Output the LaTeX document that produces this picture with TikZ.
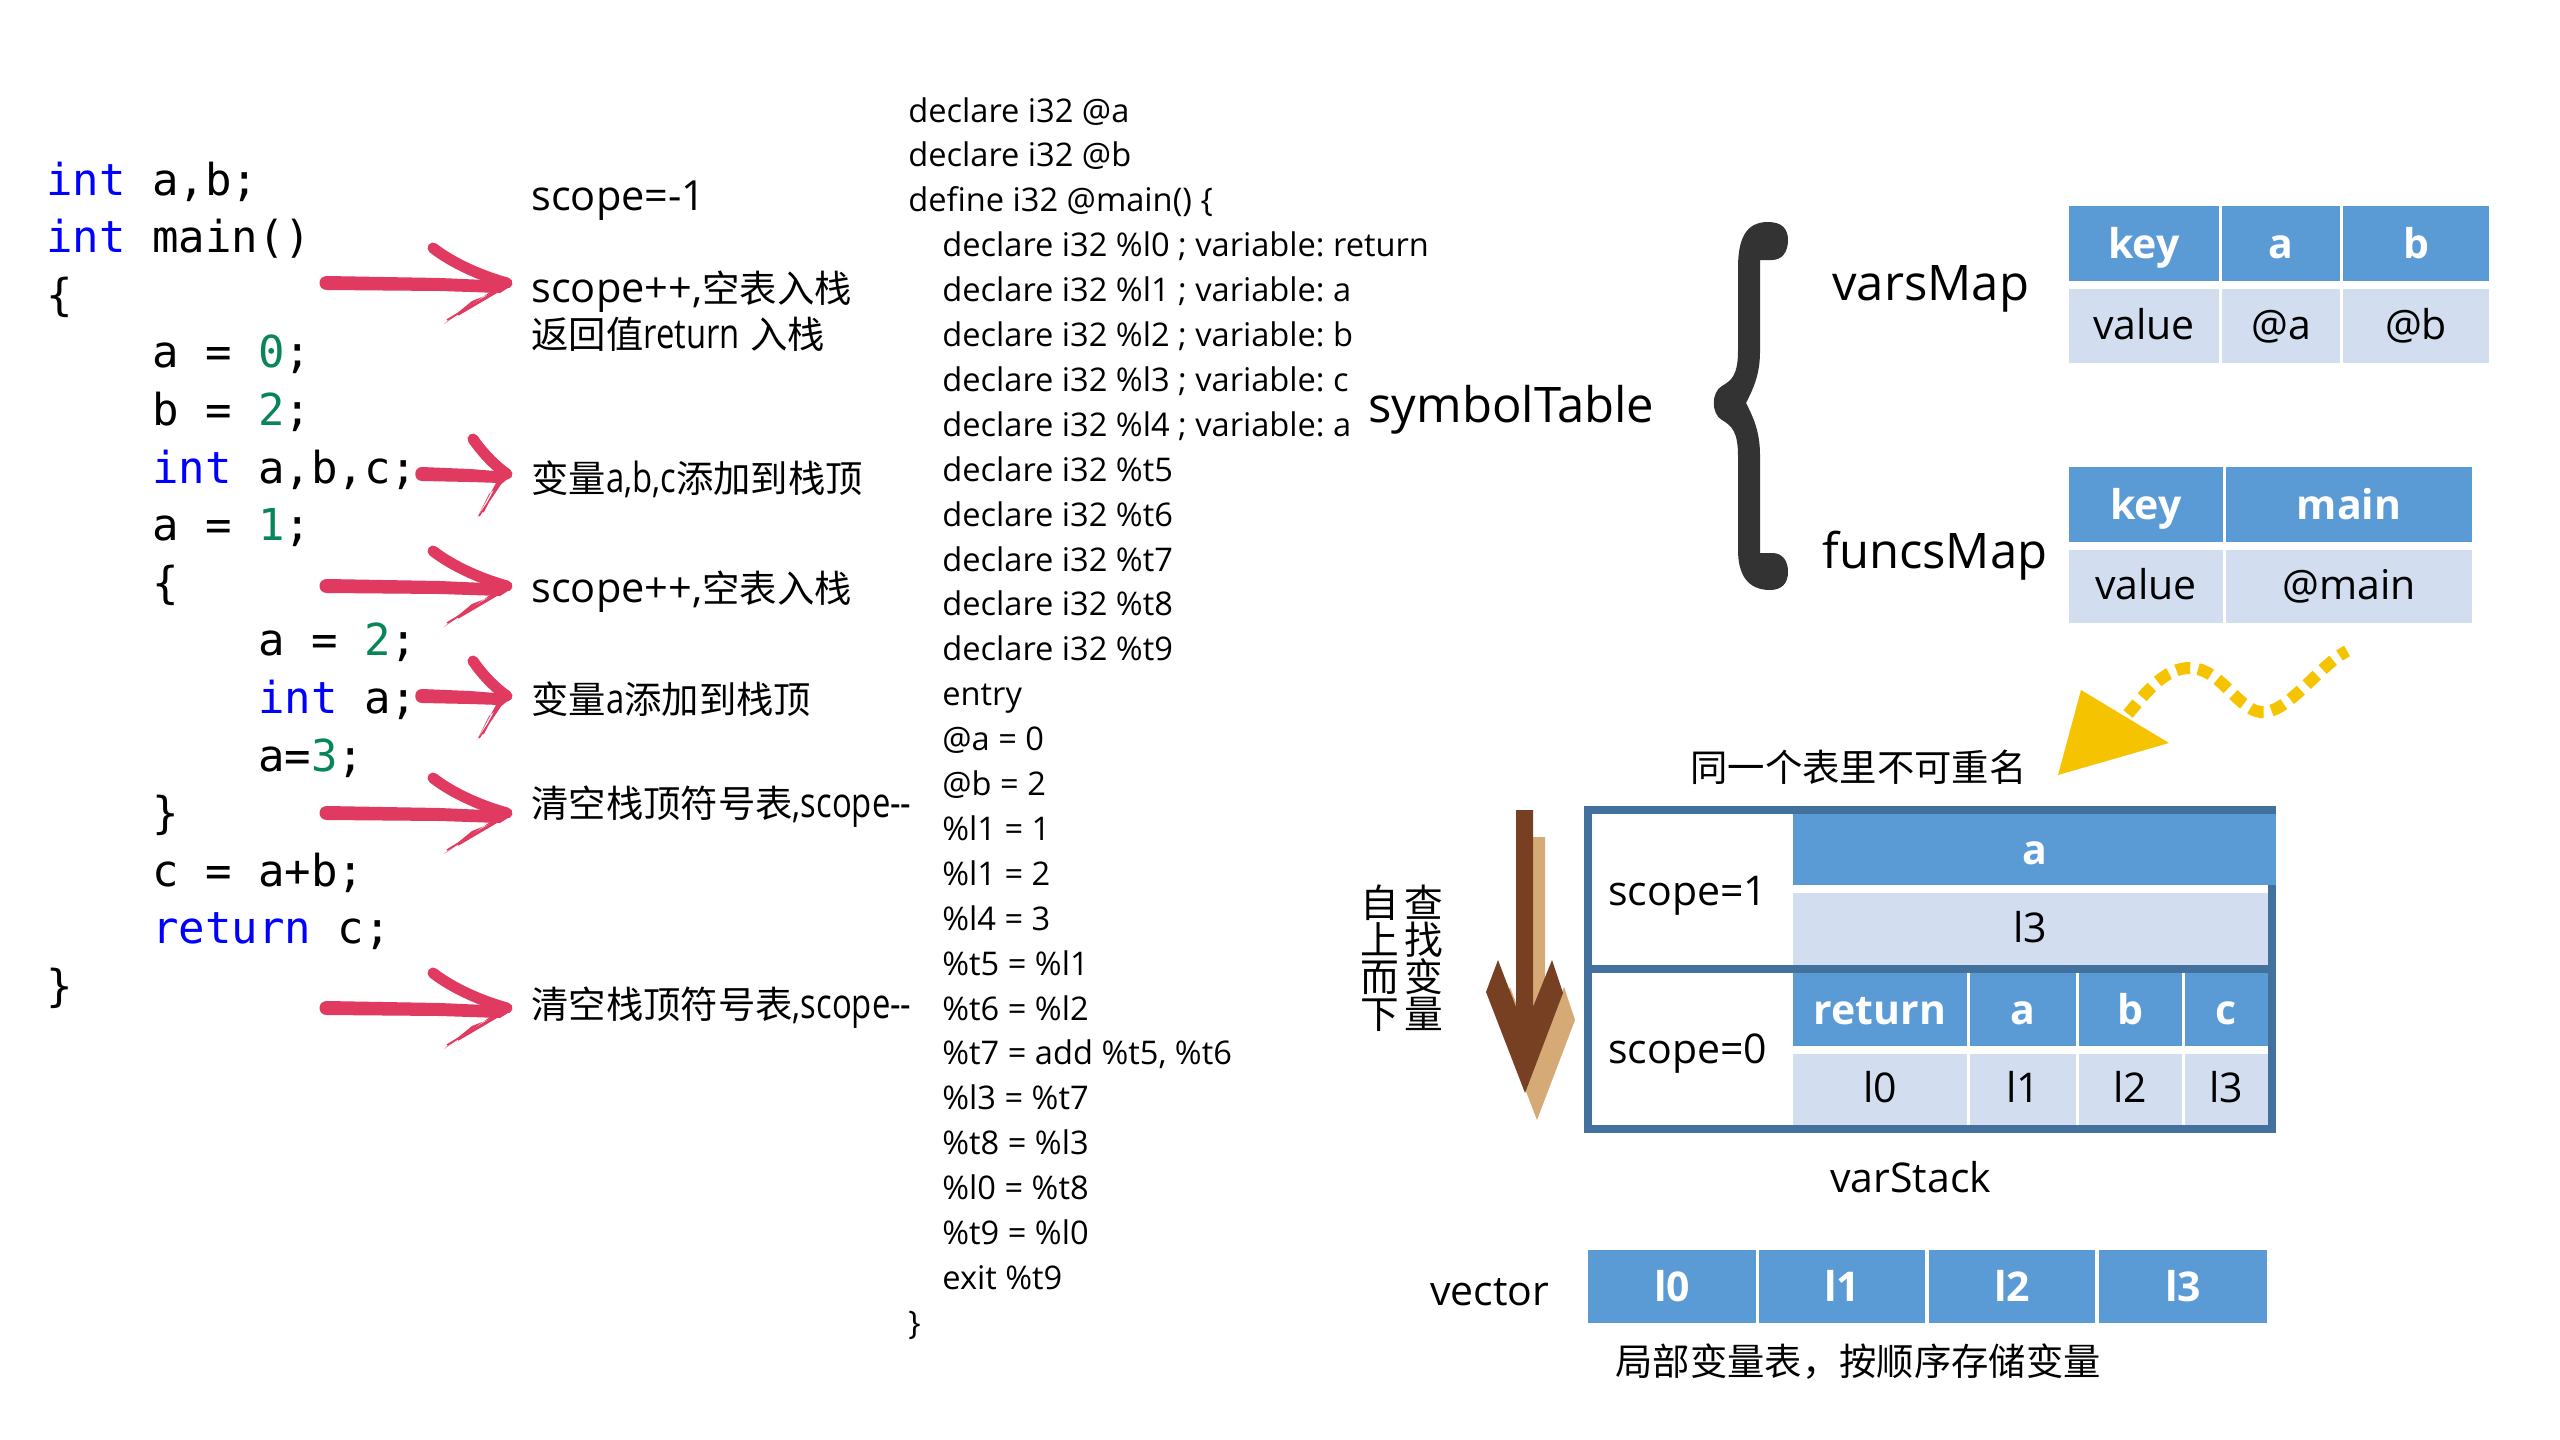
\documentclass[tikz,border=0pt]{standalone}
\usepackage{fontspec}
\setmainfont{Open Sans}
\newfontfamily\cjk[Scale=0.9]{Noto Sans CJK SC}
\newfontfamily\codef{DejaVu Sans Mono}
\definecolor{kwblue}{RGB}{0,0,255}
\definecolor{numgreen}{RGB}{9,134,88}
\definecolor{arrowred}{RGB}{224,58,97}
\definecolor{hdrblue}{RGB}{91,155,213}
\definecolor{valblue}{RGB}{210,222,239}
\definecolor{borderblue}{RGB}{65,113,156}
\definecolor{bracegray}{RGB}{51,51,51}
\definecolor{sunyellow}{RGB}{246,195,0}
\definecolor{darkbrown}{RGB}{120,64,34}
\definecolor{tanbrown}{RGB}{214,170,118}
\newcommand\kw[1]{\textcolor{kwblue}{#1}}
\newcommand\nm[1]{\textcolor{numgreen}{#1}}
\newcommand\narrow[1]{\scalebox{0.79}[1]{#1}}
\newcommand\hcell[6]{\fill[hdrblue] (#2,#3) rectangle (#4,#5); \node[hdrtxt] (#1) at ({(#2+#4)/2},{(#3+#5)/2+15}) {#6};}
\newcommand\vcell[6]{\fill[valblue] (#2,#3) rectangle (#4,#5); \node[valtxt] (#1) at ({(#2+#4)/2},{(#3+#5)/2+13}) {#6};}
\newcommand\longarrow[1]{%
\begin{scope}[shift={(0,#1)}]
\fill[arrowred] (327,-7) -- (440,-5) -- (508,-2) -- (511,3) -- (500,10) -- (440,8) -- (327,7) .. controls (317,7) and (317,-7) .. (327,-7) -- cycle;
\draw[arrowred, line width=5.5pt, line cap=round] (433,-35) .. controls (455,-18) and (485,-6) .. (507,0);
\fill[arrowred] (510,3) -- (490,9) -- (444,41) -- (472,18) -- cycle;
\draw[arrowred, line width=0.8pt] (500,6) -- (447,37) (496,8) -- (452,34) (504,5) -- (458,32);
\end{scope}}
\newcommand\shortarrow[1]{%
\begin{scope}[shift={(0,#1)}]
\fill[arrowred] (422,-7) -- (470,-5) -- (508,-2) -- (511,3) -- (500,9) -- (470,8) -- (422,7) .. controls (413,7) and (413,-7) .. (422,-7) -- cycle;
\draw[arrowred, line width=5.5pt, line cap=round] (473,-35) .. controls (482,-22) and (494,-9) .. (507,0);
\fill[arrowred] (510,3) -- (496,9) -- (477,44) -- (489,20) -- cycle;
\draw[arrowred, line width=0.8pt] (503,6) -- (479,42) (499,8) -- (483,38);
\end{scope}}
\AtBeginDocument{\frenchspacing}
\begin{document}
\begin{tikzpicture}[x=0.5pt,y=-0.5pt,
  code/.style={font=\codef\fontsize{22pt}{26pt}\selectfont, anchor=base west, inner sep=0pt},
  ir/.style={font=\fontsize{16.3pt}{19pt}\selectfont, anchor=base west, inner sep=0pt},
  note/.style={font=\fontsize{20.75pt}{24pt}\selectfont, anchor=base west, inner sep=0pt},
  big/.style={font=\fontsize{24.5pt}{28pt}\selectfont, anchor=base west, inner sep=0pt},
  mid/.style={font=\fontsize{20.5pt}{24pt}\selectfont, anchor=base west, inner sep=0pt},
  hdrtxt/.style={font=\bfseries\fontsize{20.5pt}{24pt}\selectfont, text=white, anchor=base, inner sep=0pt},
  valtxt/.style={font=\fontsize{20.5pt}{24pt}\selectfont, anchor=base, inner sep=0pt},
  cjktxt/.style={font=\cjk\fontsize{20.75pt}{24pt}\selectfont, anchor=base west, inner sep=0pt},
  vchar/.style={font=\cjk\fontsize{21.5pt}{24pt}\selectfont, anchor=base, inner sep=0pt}]
\fill[white] (0,0) rectangle (2560,1440);
\useasboundingbox (0,0) rectangle (2560,1440);

% ---- source code
\node[code] (c0)  at (46,195)    {\kw{int} a,b;};
\node[code] (c1)  at (46,252.6)  {\kw{int} main()};
\node[code] (c2)  at (46,310.2)  {\{};
\node[code] (c3)  at (152,367.8) {a = \nm{0};};
\node[code] (c4)  at (152,425.4) {b = \nm{2};};
\node[code] (c5)  at (152,483)   {\kw{int} a,b,c;};
\node[code] (c6)  at (152,540.6) {a = \nm{1};};
\node[code] (c7)  at (152,598.2) {\{};
\node[code] (c8)  at (258,655.8) {a = \nm{2};};
\node[code] (c9)  at (258,713.4) {\kw{int} a;};
\node[code] (c10) at (258,771)   {a=\nm{3};};
\node[code] (c11) at (152,828.6) {\}};
\node[code] (c12) at (152,886.2) {c = a+b;};
\node[code] (c13) at (152,943.8) {\kw{return} c;};
\node[code] (c14) at (46,1001.4) {\}};

% ---- red arrows
\longarrow{283}
\shortarrow{474}
\longarrow{586}
\shortarrow{696}
\longarrow{813}
\longarrow{1008}

% ---- notes
\node[note] (n1) at (531,210)  {scope=-1};
\node[note] (n2) at (531,302)  {scope++,{\cjk 空表入栈}};
\node[note] (n3) at (531,348)  {{\cjk 返回值}\narrow{return} {\cjk 入栈}};
\node[note] (n4) at (531,492)  {{\cjk 变量}\narrow{a,b,c}{\cjk 添加到栈顶}};
\node[note] (n5) at (531,602)  {scope++,{\cjk 空表入栈}};
\node[note] (n6) at (531,713)  {{\cjk 变量}\narrow{a}{\cjk 添加到栈顶}};
\node[note] (n7) at (531,817)  {{\cjk 清空栈顶符号表}\narrow{,scope-{}-}};
\node[note] (n8) at (531,1018) {{\cjk 清空栈顶符号表}\narrow{,scope-{}-}};

% ---- IR
\node[ir] (ir0)  at (908,122)    {declare i32 @a};
\node[ir] (ir1)  at (908,166.9)  {declare i32 @b};
\node[ir] (ir2)  at (908,211.8)  {define i32 @main() \{};
\node[ir] (ir3)  at (942,256.7)  {declare i32 \%l0 ; variable: return};
\node[ir] (ir4)  at (942,301.6)  {declare i32 \%l1 ; variable: a};
\node[ir] (ir5)  at (942,346.5)  {declare i32 \%l2 ; variable: b};
\node[ir] (ir6)  at (942,391.4)  {declare i32 \%l3 ; variable: c};
\node[ir] (ir7)  at (942,436.3)  {declare i32 \%l4 ; variable: a};
\node[ir] (ir8)  at (942,481.2)  {declare i32 \%t5};
\node[ir] (ir9)  at (942,526.1)  {declare i32 \%t6};
\node[ir] (ir10) at (942,571)    {declare i32 \%t7};
\node[ir] (ir11) at (942,615.9)  {declare i32 \%t8};
\node[ir] (ir12) at (942,660.8)  {declare i32 \%t9};
\node[ir] (ir13) at (942,705.7)  {entry};
\node[ir] (ir14) at (942,750.6)  {@a = 0};
\node[ir] (ir15) at (942,795.5)  {@b = 2};
\node[ir] (ir16) at (942,840.4)  {\%l1 = 1};
\node[ir] (ir17) at (942,885.3)  {\%l1 = 2};
\node[ir] (ir18) at (942,930.2)  {\%l4 = 3};
\node[ir] (ir19) at (942,975.1)  {\%t5 = \%l1};
\node[ir] (ir20) at (942,1020)   {\%t6 = \%l2};
\node[ir] (ir21) at (942,1064.9) {\%t7 = add \%t5, \%t6};
\node[ir] (ir22) at (942,1109.8) {\%l3 = \%t7};
\node[ir] (ir23) at (942,1154.7) {\%t8 = \%l3};
\node[ir] (ir24) at (942,1199.6) {\%l0 = \%t8};
\node[ir] (ir25) at (942,1244.5) {\%t9 = \%l0};
\node[ir] (ir26) at (942,1289.4) {exit \%t9};
\node[ir] (ir27) at (908,1334.3) {\}};

% ---- symbol table
\node[big] (symt) at (1368,422) {symbolTable};
\fill[bracegray] (1768,222) .. controls (1745,222) and (1738,240) .. (1738,268) -- (1738,350)
  .. controls (1738,375) and (1732,380) .. (1722,386) .. controls (1711,392) and (1711,414) .. (1722,420)
  .. controls (1732,426) and (1738,432) .. (1738,456) -- (1738,550)
  .. controls (1738,575) and (1748,590) .. (1770,590) .. controls (1782,590) and (1788,583) .. (1788,572)
  .. controls (1788,560) and (1782,553) .. (1772,553) -- (1760,553) -- (1760,455)
  .. controls (1760,430) and (1752,415) .. (1746,403) .. controls (1752,391) and (1760,376) .. (1760,352)
  -- (1760,260) -- (1772,260) .. controls (1782,260) and (1788,252) .. (1788,240)
  .. controls (1788,229) and (1782,222) .. (1768,222) -- cycle;
\node[big] (vmap) at (1832,300) {varsMap};
\node[big] (fmap) at (1822,568) {funcsMap};

\hcell{vk}{2069}{206}{2219}{281}{key}
\hcell{va}{2222}{206}{2340}{281}{a}
\hcell{vb}{2343}{206}{2489}{281}{b}
\vcell{vv}{2069}{289}{2219}{363}{value}
\vcell{vaa}{2222}{289}{2340}{363}{@a}
\vcell{vbb}{2343}{289}{2489}{363}{@b}

\hcell{fk}{2069}{467}{2223}{542}{key}
\hcell{fm}{2226}{467}{2472}{542}{main}
\vcell{fv}{2069}{550}{2223}{623}{value}
\vcell{fmm}{2226}{550}{2472}{623}{@main}

% ---- yellow arrow
\fill[sunyellow] (2081,690) -- (2169,743) -- (2058,775) -- cycle;
\draw[sunyellow, line width=6pt, dash pattern=on 7pt off 4pt] (2128,714) .. controls (2148,690) and (2165,668) .. (2190,668) .. controls (2222,668) and (2240,715) .. (2265,712) .. controls (2290,710) and (2320,665) .. (2347,651);

\node[cjktxt] (same) at (1690,781) {同一个表里不可重名};

% ---- brown arrow
\fill[tanbrown, shift={(12,27)}] (1516,810) -- (1533,810) -- (1533,1007) -- (1552,960) -- (1563,993) -- (1525,1093) -- (1486,992) -- (1498,960) -- (1516,1007) -- cycle;
\fill[darkbrown] (1516,810) -- (1533,810) -- (1533,1007) -- (1552,960) -- (1563,993) -- (1525,1093) -- (1486,992) -- (1498,960) -- (1516,1007) -- cycle;

\node[vchar] (z1) at (1380,917) {自};
\node[vchar] (z2) at (1380,954) {上};
\node[vchar] (z3) at (1380,991) {而};
\node[vchar] (z4) at (1380,1028) {下};
\node[vchar] (z5) at (1424,917) {查};
\node[vchar] (z6) at (1424,954) {找};
\node[vchar] (z7) at (1424,991) {变};
\node[vchar] (z8) at (1424,1028) {量};

% ---- varStack
\draw[borderblue, line width=4pt] (1588,810) rectangle (2272,1129);
\draw[borderblue, line width=4pt] (1584,969) -- (2276,969);
\hcell{s1a}{1793}{814}{2276}{885}{a}
\vcell{s1l}{1793}{893}{2268}{965}{l3}
\hcell{s0r}{1793}{973}{1967}{1046}{return}
\hcell{s0a}{1970}{973}{2076}{1046}{a}
\hcell{s0b}{2079}{973}{2182}{1046}{b}
\hcell{s0c}{2185}{973}{2268}{1046}{c}
\vcell{s0l0}{1793}{1054}{1967}{1125}{l0}
\vcell{s0l1}{1970}{1054}{2076}{1125}{l1}
\vcell{s0l2}{2079}{1054}{2182}{1125}{l2}
\vcell{s0l3}{2185}{1054}{2268}{1125}{l3}
\node[mid] (s1) at (1608,905) {scope=1};
\node[mid] (s0) at (1608,1063) {scope=0};
\node[mid] (vst) at (1830,1192) {varStack};

% ---- vector
\node[mid] (vec) at (1430,1305) {vector};
\hcell{v0}{1588}{1250}{1756}{1323}{l0}
\hcell{v1}{1759}{1250}{1925}{1323}{l1}
\hcell{v2}{1929}{1250}{2095}{1323}{l2}
\hcell{v3}{2099}{1250}{2267}{1323}{l3}
\node[cjktxt] (local) at (1615,1375) {局部变量表，按顺序存储变量};
\end{tikzpicture}
\end{document}
